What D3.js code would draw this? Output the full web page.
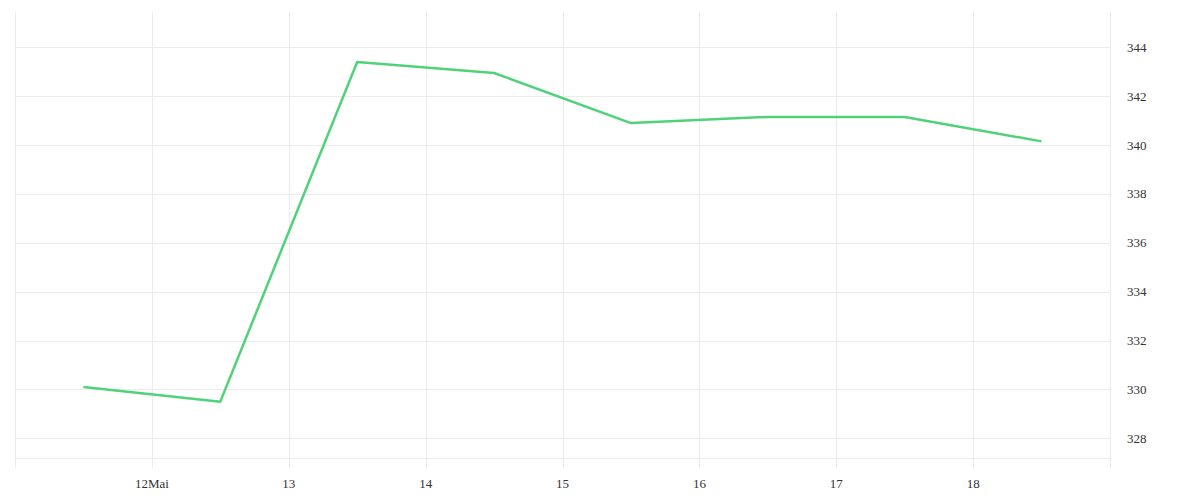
<!DOCTYPE html>
<html>
<head>
<meta charset="utf-8">
<script src="https://cdn.jsdelivr.net/npm/d3@7"></script>
<style>
  html, body { margin: 0; padding: 0; background: #fff; }
  svg text { font-family: "Liberation Serif", serif; font-size: 13px; fill: #333; }
</style>
</head>
<body>
<svg id="chart" width="1200" height="500"></svg>
<script>
// Data: daily points at 12:00 (May 11 .. May 18)
const dates = ["2024-05-11T12:00", "2024-05-12T12:00", "2024-05-13T12:00", "2024-05-14T12:00",
               "2024-05-15T12:00", "2024-05-16T12:00", "2024-05-17T12:00", "2024-05-18T12:00"];
const values = [330.1, 329.5, 343.4, 342.95, 340.9, 341.15, 341.15, 340.15];
const yTicks = [328, 330, 332, 334, 336, 338, 340, 342, 344];
const xTickDates = ["2024-05-11", "2024-05-12", "2024-05-13", "2024-05-14", "2024-05-15",
                    "2024-05-16", "2024-05-17", "2024-05-18", "2024-05-19"];
const xTickLabels = ["", "12Mai", "13", "14", "15", "16", "17", "18", ""];

const parse = d3.timeParse("%Y-%m-%dT%H:%M");
const parseDay = d3.timeParse("%Y-%m-%d");

const svg = d3.select("#chart");
const pLeft = 15, pRight = 1110, pTop = 12, pBottom = 458;

const x = d3.scaleTime()
  .domain([parseDay("2024-05-11"), parseDay("2024-05-19")])
  .range([pLeft, pRight]);
const y = d3.scaleLinear()
  .domain([328, 344])
  .range([438.3, 47.3]);

const grid = svg.append("g").attr("stroke", "#ececec").attr("stroke-width", 1).attr("shape-rendering", "crispEdges");

// horizontal grid
grid.selectAll("line.h").data(yTicks).enter().append("line")
  .attr("x1", pLeft).attr("x2", pRight)
  .attr("y1", d => Math.round(y(d)) + 0.5).attr("y2", d => Math.round(y(d)) + 0.5);
// bottom plot edge
grid.append("line").attr("x1", pLeft).attr("x2", pRight).attr("y1", pBottom + 0.5).attr("y2", pBottom + 0.5);

// vertical grid
const xt = xTickDates.map(parseDay);
grid.selectAll("line.v").data(xt).enter().append("line")
  .attr("x1", d => Math.round(x(d)) + 0.5).attr("x2", d => Math.round(x(d)) + 0.5)
  .attr("y1", pTop).attr("y2", pBottom + 10);

// x labels
svg.append("g").selectAll("text").data(xt).enter().append("text")
  .attr("x", d => x(d))
  .attr("y", 488)
  .attr("text-anchor", "middle")
  .text((d, i) => xTickLabels[i]);

// y labels
svg.append("g").selectAll("text").data(yTicks).enter().append("text")
  .attr("x", 1127)
  .attr("y", d => y(d))
  .attr("dy", "0.35em")
  .text(d => d);

// line
const pts = dates.map((d, i) => ({ t: parse(d), v: values[i] }));
svg.append("path")
  .datum(pts)
  .attr("fill", "none")
  .attr("stroke", "#50d27a")
  .attr("stroke-width", 2.5)
  .attr("stroke-linejoin", "round")
  .attr("d", d3.line().x(d => x(d.t)).y(d => y(d.v)));
</script>
</body>
</html>
